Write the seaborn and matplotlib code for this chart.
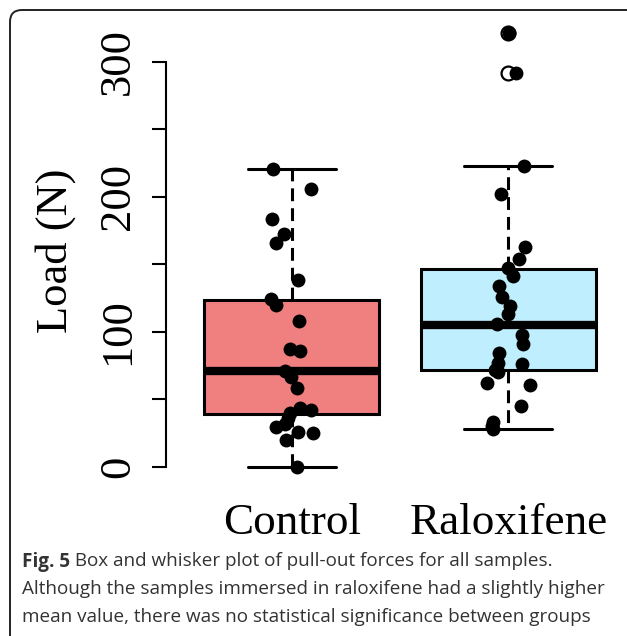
"""
Pull-out load box plot (Fig. 5) — Control vs Raloxifene.
"""

import numpy as np
import pandas as pd
import matplotlib
matplotlib.use("Agg")
import matplotlib.pyplot as plt
from matplotlib.patches import FancyBboxPatch
import seaborn as sns

# ── Data ──────────────────────────────────────────────────────────────────────
GROUPS = ["Control", "Raloxifene"]

control_load = [220.5, 205.7, 183.3, 172.1, 165.9, 138.3, 124.0, 119.8, 108.1,
                87.4, 85.9, 70.9, 66.7, 58.5, 39.6, 43.3, 42.0, 35.9, 29.2,
                31.6, 25.7, 25.2, 19.8, 0.0]
control_jitter = [-0.088, 0.087, -0.091, -0.035, -0.074, 0.030, -0.096, -0.073,
                  0.035, -0.008, 0.038, -0.031, -0.004, 0.025, -0.008, 0.038,
                  0.087, -0.016, -0.073, -0.031, 0.030, 0.099, -0.027, 0.025]

raloxifene_load = [321.0, 291.9, 223.0, 201.8, 162.5, 153.9, 147.0, 141.3, 133.9,
                   125.5, 119.3, 113.1, 105.5, 97.6, 90.9, 84.4, 77.0, 75.9,
                   71.6, 69.9, 62.2, 60.5, 45.2, 33.3, 30.1, 27.7]
raloxifene_jitter = [0.005, 0.036, 0.073, -0.035, 0.077, 0.051, 0.0, 0.020,
                     -0.044, -0.030, 0.008, 0.0, -0.054, 0.062, 0.069, -0.042,
                     -0.046, 0.062, -0.061, -0.046, -0.097, 0.100, 0.057,
                     -0.069, -0.077, -0.069]

# box statistics as drawn (R hinges)
box_q1 = [38.8, 71.6]
box_median = [70.9, 105.0]
box_q3 = [123.5, 146.2]
whisker_low = [0.0, 27.7]
whisker_high = [220.5, 223.0]
outliers = [[], [321.0, 291.9]]

BOX_COLORS = ["#F08080", "#BFEFFF"]

CAPTION_BOLD = "Fig. 5"
CAPTION_LINES = [
    " Box and whisker plot of pull-out forces for all samples.",
    "Although the samples immersed in raloxifene had a slightly higher",
    "mean value, there was no statistical significance between groups",
]

# ── Style ─────────────────────────────────────────────────────────────────────
sns.set_theme(style="white")
plt.rcParams["font.family"] = ["Liberation Serif", "DejaVu Serif"]
plt.rcParams["lines.scale_dashes"] = True

W, H = 627, 636
fig = plt.figure(figsize=(W / 100, H / 100), dpi=100)
fig.patch.set_facecolor("white")

# plot region in pixels: x 165.7..627, y 13.2..484 (from top)
ax = fig.add_axes([165.7 / W, (H - 484) / H, (W - 165.7) / W, (484 - 13.2) / H])
ax.patch.set_alpha(0)

stats = []
for i, g in enumerate(GROUPS):
    stats.append({"label": g, "q1": box_q1[i], "med": box_median[i],
                  "q3": box_q3[i], "whislo": whisker_low[i],
                  "whishi": whisker_high[i], "fliers": outliers[i]})

bp = ax.bxp(stats, positions=[0, 1], widths=0.81, capwidths=0.405,
            patch_artist=True, manage_ticks=False,
            boxprops=dict(linewidth=2.2, edgecolor="black"),
            medianprops=dict(color="black", linewidth=6, solid_capstyle="butt"),
            whiskerprops=dict(color="black", linewidth=2.2,
                              linestyle=(0, (4.2, 2.3))),
            capprops=dict(color="black", linewidth=2.2),
            flierprops=dict(marker="o", markersize=10, markerfacecolor="none",
                            markeredgecolor="black", markeredgewidth=1.6))
for patch, c in zip(bp["boxes"], BOX_COLORS):
    patch.set_facecolor(c)

df = pd.DataFrame({
    "group": ["Control"] * len(control_load) + ["Raloxifene"] * len(raloxifene_load),
    "load": control_load + raloxifene_load,
    "jitter": control_jitter + raloxifene_jitter,
})
df["xpos"] = df["group"].map({g: i for i, g in enumerate(GROUPS)}) + df["jitter"]
sns.scatterplot(data=df, x="xpos", y="load", color="black", s=100,
                linewidth=0, ax=ax, zorder=3, legend=False)

ax.set_xlim(-0.582, 1.548)
ax.set_ylim(-12.9, 335.9)
for side in ["top", "right", "bottom"]:
    ax.spines[side].set_visible(False)
ax.spines["left"].set_bounds(0, 300)
ax.spines["left"].set_linewidth(1.5)
ax.spines["left"].set_color("black")

ax.set_xticks([0, 1], GROUPS)
ax.tick_params(axis="x", length=0, pad=14, labelsize=32.5, colors="black")
ax.set_yticks([0, 100, 200, 300])
ax.set_yticks([50, 150, 250], minor=True)
ax.tick_params(axis="y", which="both", length=10, width=1.5, pad=10,
               labelsize=32, left=True, colors="black")
for lab in ax.get_yticklabels():
    lab.set_rotation(90)
    lab.set_va("center")
ax.set_xlabel("")
ax.set_ylabel("")

# ── Overlay: frame, y label and caption (pixel coordinates) ───────────────────
ov = fig.add_axes([0, 0, 1, 1], zorder=-1)
ov.set_xlim(0, W)
ov.set_ylim(H, 0)
ov.axis("off")
ov.add_patch(FancyBboxPatch((10, 10), 700, 700,
                            boxstyle="round,pad=0,rounding_size=12",
                            fill=False, linewidth=1.4, edgecolor="#222222"))

ov.text(56, 251, "Load (N)", rotation=90, ha="center", va="center",
        fontsize=32, color="black")

cap_kw = dict(family=["Open Sans", "DejaVu Sans"], fontsize=13.6,
              color="#333333", va="baseline", ha="left")
bold = ov.text(22, 566.5, CAPTION_BOLD, fontweight="bold", **cap_kw)
fig.canvas.draw()
x_after = bold.get_window_extent().x1
ov.text(x_after, 566.5, CAPTION_LINES[0], **cap_kw)
ov.text(22, 594, CAPTION_LINES[1], **cap_kw)
ov.text(22, 621.5, CAPTION_LINES[2], **cap_kw)

fig.savefig("out.png", dpi=100)
plt.close(fig)
